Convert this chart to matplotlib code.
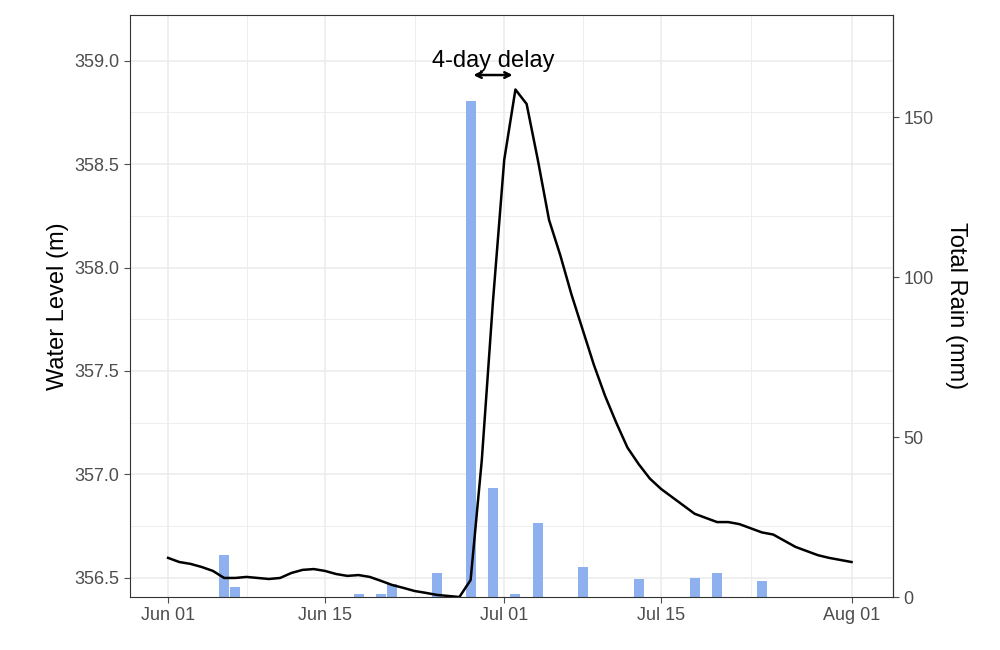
import numpy as np
import pandas as pd
import matplotlib
matplotlib.use("Agg")
import matplotlib.pyplot as plt
import matplotlib.dates as mdates

plt.rcParams['font.family'] = ['Liberation Sans', 'DejaVu Sans']

# Data
start = pd.Timestamp("2023-06-01")
level = [356.597, 356.577, 356.568, 356.553, 356.534, 356.50, 356.50, 356.505, 356.50, 356.495,
         356.50, 356.524, 356.539, 356.543, 356.534, 356.519, 356.510, 356.514, 356.505, 356.486,
         356.466, 356.452, 356.437, 356.428, 356.418, 356.413, 356.408, 356.49, 357.07, 357.84,
         358.52, 358.86, 358.79, 358.52, 358.23, 358.06, 357.87, 357.70, 357.53, 357.38,
         357.25, 357.13, 357.05, 356.98, 356.93, 356.89, 356.85, 356.81, 356.79, 356.77,
         356.77, 356.76, 356.74, 356.72, 356.71, 356.68, 356.65, 356.63, 356.61, 356.597,
         356.587, 356.577]
rain_days = [5, 6, 17, 19, 20, 24, 27, 29, 31, 33, 37, 42, 47, 49, 53]
rain_mm = [13, 3, 1, 1, 4, 7.5, 155, 34, 1, 23, 9.4, 5.6, 6, 7.5, 5]

# secondary axis mapping: rain (mm) -> level (m)
BASE = 356.408
SCALE = (359.22 - BASE) / 181.9

def rain_to_level(r):
    return BASE + np.asarray(r) * SCALE

def level_to_rain(l):
    return (np.asarray(l) - BASE) / SCALE

dates = start + pd.to_timedelta(np.arange(len(level)), unit="D")
rain_dates = start + pd.to_timedelta(rain_days, unit="D")

fig = plt.figure(figsize=(10, 6.5), dpi=100)
ax = fig.add_axes([0.130, 1 - 597 / 650, 0.763, (597 - 15) / 650])

ax.bar(rain_dates, np.array(rain_mm) * SCALE, bottom=BASE, width=0.9, color="#8fb0ee", zorder=2)
ax.plot(dates, level, color="black", lw=1.8, zorder=3)
ax.set_ylim(BASE, 359.22)
ax.set_xlim(start - pd.Timedelta(days=3.4), start + pd.Timedelta(days=64.7))
ax.set_yticks([356.5, 357.0, 357.5, 358.0, 358.5, 359.0])
ax.set_yticks(np.arange(356.75, 359.1, 0.5), minor=True)
ax.yaxis.set_major_formatter(matplotlib.ticker.FormatStrFormatter("%.1f"))
ticks = pd.to_datetime(["2023-06-01", "2023-06-15", "2023-07-01", "2023-07-15", "2023-08-01"])
ax.set_xticks(ticks)
ax.xaxis.set_major_formatter(mdates.DateFormatter("%b %d"))
ax.set_xticks(pd.to_datetime(["2023-06-08", "2023-06-23", "2023-07-08", "2023-07-23"]), minor=True)
ax.set_ylabel("Water Level (m)", fontsize=17)

sec = ax.secondary_yaxis("right", functions=(level_to_rain, rain_to_level))
sec.set_yticks([0, 50, 100, 150])
sec.set_ylabel("Total Rain (mm)", fontsize=17, rotation=270, labelpad=24)

ax.grid(True, which="major", color="#ebebeb", lw=1.1, zorder=0)
ax.grid(True, which="minor", color="#ebebeb", lw=0.6, zorder=0)
ax.set_axisbelow(True)
for a in (ax, sec):
    for s in a.spines.values():
        s.set_color("#333333")
    a.tick_params(labelsize=13, colors="#4d4d4d", length=4)
ax.tick_params(which="minor", length=0)

ax.annotate("", xy=(start + pd.Timedelta(days=31), 358.93),
            xytext=(start + pd.Timedelta(days=27), 358.93),
            arrowprops=dict(arrowstyle="<->", lw=1.8, color="black"))
ax.text(start + pd.Timedelta(days=29), 359.0, "4-day delay", ha="center", va="center", fontsize=17)

fig.savefig("out.png", dpi=100)
